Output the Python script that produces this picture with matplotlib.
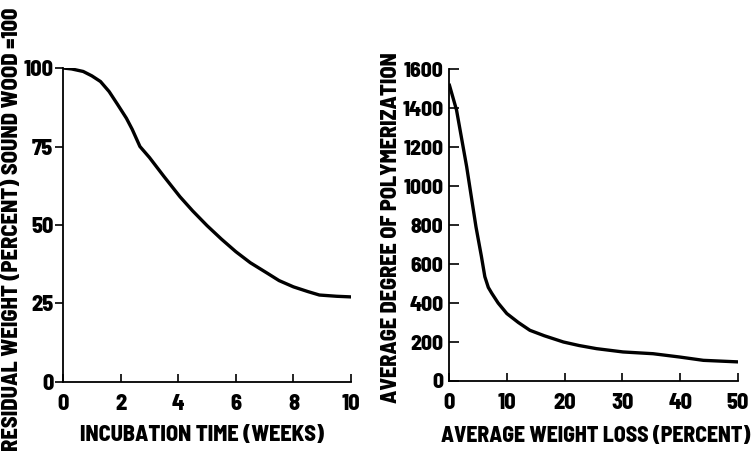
import matplotlib
matplotlib.use('Agg')
import matplotlib.pyplot as plt

plt.rcParams['font.family'] = ['Barlow Semi Condensed', 'DejaVu Sans']
plt.rcParams['font.weight'] = 'bold'

# left panel: residual weight vs incubation time
weeks = [0, 0.3, 0.7, 1.0, 1.3, 1.6, 1.9, 2.2, 2.4, 2.67, 3.0, 3.5, 4.06,
         4.5, 5.0, 5.5, 6.0, 6.5, 7.1, 7.5, 8.0, 8.5, 8.9, 9.5, 10]
resid = [100, 99.7, 98.9, 97.5, 95.7, 92.5, 88.3, 84, 80.5, 75, 71.5, 65.5, 59,
         54.5, 49.8, 45.5, 41.5, 38, 34.6, 32.3, 30.3, 28.8, 27.7, 27.3, 27.1]

# right panel: degree of polymerization vs weight loss
wloss = [0, 1.3, 3.05, 4.67, 5.6, 6.2, 6.8, 7.4, 8.5, 10, 12, 14, 16.5, 19.8, 22.5,
         25.5, 30.1, 35.3, 39.9, 44, 50]
dp = [1525, 1390, 1100, 790, 640, 535, 480, 450, 400, 346, 300, 260, 232, 200, 182,
      166, 149, 140, 123, 106, 98]

fig = plt.figure(figsize=(7.54, 4.54), dpi=100)
ax1 = fig.add_axes([0.0836, 0.1586, 0.382, 0.6916])
ax2 = fig.add_axes([0.5955, 0.1608, 0.3833, 0.687])

ax1.plot(weeks, resid, 'k', lw=2.4, solid_capstyle='butt')
ax1.set_xlim(0, 10)
ax1.set_ylim(0, 100)
ax1.set_xticks([0, 2, 4, 6, 8, 10])
ax1.set_yticks([0, 25, 50, 75, 100])
ax1.tick_params(axis='x', direction='in', length=6, width=1.2, pad=9, labelsize=16)
ax1.tick_params(axis='y', direction='out', length=6, width=1.2, pad=1, labelsize=16)

ax2.plot(wloss, dp, 'k', lw=2.4, solid_capstyle='butt')
ax2.set_xlim(0, 50)
ax2.set_ylim(0, 1600)
ax2.set_xticks([0, 10, 20, 30, 40, 50])
ax2.set_yticks(range(0, 1601, 200))
ax2.tick_params(axis='x', direction='in', length=6, width=1.2, pad=9, labelsize=16)
ax2.tick_params(axis='y', direction='in', length=7, width=1.2, pad=4, labelsize=15.5)

for ax in (ax1, ax2):
    ax.spines['top'].set_visible(False)
    ax.spines['right'].set_visible(False)
    ax.spines['left'].set_linewidth(1.3)
    ax.spines['bottom'].set_linewidth(1.3)
    for lab in ax.get_xticklabels() + ax.get_yticklabels():
        lab.set_fontweight(800)

fig.text(202 / 754, 1 - 435 / 454, 'INCUBATION TIME (WEEKS)', ha='center', va='center',
         fontsize=16, fontweight=800)
fig.text(596 / 754, 1 - 436 / 454, 'AVERAGE WEIGHT LOSS (PERCENT)', ha='center', va='center',
         fontsize=15.6, fontweight=800)
fig.text(12 / 754, 1 - 451 / 454, 'RESIDUAL WEIGHT (PERCENT) SOUND WOOD =100', rotation=90,
         ha='center', va='bottom', fontsize=16.1, fontweight=800)
fig.text(391 / 754, 1 - 228 / 454, 'AVERAGE DEGREE OF POLYMERIZATION', rotation=90,
         ha='center', va='center', fontsize=16, fontweight=800)

fig.savefig('out.png', dpi=100)
